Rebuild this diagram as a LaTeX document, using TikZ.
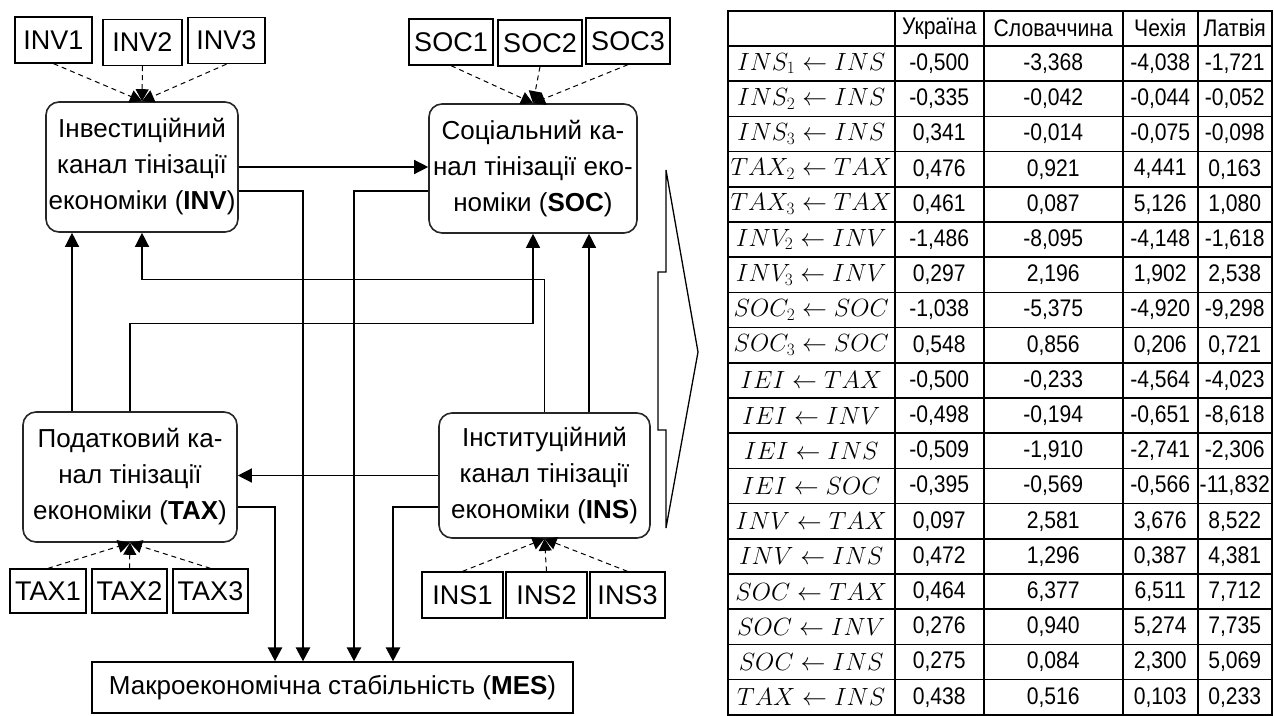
\documentclass[tikz,border=0pt]{standalone}
\usepackage{fontspec}
\setmainfont{Liberation Sans}
\newfontfamily\narrowsans{Liberation Sans}[FakeStretch=0.88]
\usetikzlibrary{arrows.meta,matrix,calc}

\newcommand\indfont{\fontsize{27}{31}\selectfont}
\newcommand\chanfont{\fontsize{26}{36}\selectfont}
\newcommand\mesfont{\fontsize{26}{30}\selectfont}
\newcommand\tabfont{\narrowsans\fontsize{24}{28}\selectfont}
\newcommand\labfont{\fontsize{24}{28}\selectfont}

\tikzset{
  ind/.style={draw=black, line width=1.3pt, minimum height=46pt, inner sep=0pt, font=\indfont},
  chan/.style={draw=black!85, line width=1.6pt, rounded corners=13pt, align=center, inner sep=0pt, font=\chanfont},
  link/.style={line width=1.3pt, -{Triangle[length=14pt,width=14pt]}},
  heavy/.style={line width=2.6pt, -{Triangle[length=14pt,width=14pt]}},
  meas/.style={line width=1pt, dash pattern=on 5pt off 4pt, -{Triangle[length=12pt,width=13pt]}},
}

\begin{document}
\begin{tikzpicture}[x=1pt,y=-1pt]
\useasboundingbox (0,0) rectangle (1274,715);

% channels of the shadow economy
\node[chan, minimum width=192pt, minimum height=130pt] (INV) at (142,167)
  {Інвестиційний\\канал тінізації\\економіки (\textbf{INV})};
\node[chan, minimum width=208pt, minimum height=129pt] (SOC) at (533,168.5)
  {Соціальний ка-\\нал тінізації еко-\\номіки (\textbf{SOC})};
\node[chan, minimum width=214pt, minimum height=130pt] (TAX) at (130,477)
  {Податковий ка-\\нал тінізації\\економіки (\textbf{TAX})};
\node[chan, minimum width=211pt, minimum height=125pt] (INS) at (544.5,475.5)
  {Інституційний\\канал тінізації\\економіки (\textbf{INS})};

% macroeconomic stability
\node[draw=black, line width=1.3pt, minimum width=481pt, minimum height=51pt, inner sep=0pt, font=\mesfont]
  (MES) at (332.5,687.5) {Макроекономічна стабільність (\textbf{MES})};

% indicators
\node[ind, minimum width=77pt] (INV1) at (53.5,40) {INV1};
\node[ind, minimum width=79pt] (INV2) at (142.5,42.5) {INV2};
\node[ind, minimum width=77pt] (INV3) at (226.5,40.5) {INV3};
\node[ind, minimum width=84pt] (SOC1) at (451,42) {SOC1};
\node[ind, minimum width=84pt] (SOC2) at (540,43) {SOC2};
\node[ind, minimum width=84pt] (SOC3) at (628,41) {SOC3};
\node[ind, minimum width=76pt, minimum height=44pt] (TAX1) at (48,591) {TAX1};
\node[ind, minimum width=75pt, minimum height=44pt] (TAX2) at (129.5,591) {TAX2};
\node[ind, minimum width=75pt, minimum height=44pt] (TAX3) at (210.5,591) {TAX3};
\node[ind, minimum width=81pt] (INS1) at (462.5,595) {INS1};
\node[ind, minimum width=81pt] (INS2) at (546.5,595) {INS2};
\node[ind, minimum width=75pt] (INS3) at (627.5,595) {INS3};

% measurement links
\foreach \i in {1,2,3} {
  \draw[meas] (INV\i.south) -- (INV.north);
  \draw[meas] (SOC\i.south) -- (SOC.north);
  \draw[meas] (TAX\i.north) -- (TAX.south);
  \draw[meas] (INS\i.north) -- (INS.south);
}

% links between channels
\draw[link] (INV.east) -- (INV.east -| SOC.west);
\draw[link] ([xshift=-58pt]TAX.north) -- ([xshift=-58pt]TAX.north |- INV.south);
\draw[link] (INS.north) |- ($(INV.south)+(0,47)$) -- (INV.south);
\draw[link] (TAX.north) |- ($(SOC.south)+(0,90)$) -- (SOC.south);
\draw[link] ([xshift=44.5pt]INS.north) -- ([xshift=44.5pt]INS.north |- SOC.south);
\draw[link] (INS.west) -- (INS.west -| TAX.east);

% channels to macroeconomic stability
\draw[heavy] ([yshift=-24pt]INV.east) -| ([xshift=-29.5pt]MES.north);
\draw[heavy] ([yshift=-22.5pt]SOC.west) -| ([xshift=21.5pt]MES.north);
\draw[heavy] ([yshift=-30pt]TAX.east) -| ([xshift=-57.5pt]MES.north);
\draw[heavy] ([yshift=-31.5pt]INS.west) -| ([xshift=60.5pt]MES.north);

% callout pointing to the table
\draw[line width=1.3pt, line join=miter] (666,170) -- (666,272) -- (658,272) -- (658,430)
  -- (666,430) -- (666,528) -- (698,352) -- cycle;

% coefficients table
\matrix (tbl) [matrix of nodes, anchor=north west, inner sep=0pt, outer sep=0pt,
  column sep=-1.5pt, row sep=-1.5pt, nodes in empty cells,
  nodes={draw, line width=1.5pt, anchor=center, minimum height=35.2pt, inner sep=0pt, outer sep=0pt, font=\tabfont},
  column 1/.style={nodes={minimum width=167pt, font=\labfont}},
  column 2/.style={nodes={minimum width=89pt}},
  column 3/.style={nodes={minimum width=139pt}},
  column 4/.style={nodes={minimum width=75pt}},
  column 5/.style={nodes={minimum width=74pt}}] at (727,10) {
  & Україна & Словаччина & Чехія & Латвія \\
$INS_1 \leftarrow INS$ & -0,500 & -3,368 & -4,038 & -1,721 \\
$INS_2 \leftarrow INS$ & -0,335 & -0,042 & -0,044 & -0,052 \\
$INS_3 \leftarrow INS$ & 0,341 & -0,014 & -0,075 & -0,098 \\
$TAX_2 \leftarrow TAX$ & 0,476 & 0,921 & 4,441 & 0,163 \\
$TAX_3 \leftarrow TAX$ & 0,461 & 0,087 & 5,126 & 1,080 \\
$INV_2 \leftarrow INV$ & -1,486 & -8,095 & -4,148 & -1,618 \\
$INV_3 \leftarrow INV$ & 0,297 & 2,196 & 1,902 & 2,538 \\
$SOC_2 \leftarrow SOC$ & -1,038 & -5,375 & -4,920 & -9,298 \\
$SOC_3 \leftarrow SOC$ & 0,548 & 0,856 & 0,206 & 0,721 \\
$IEI \leftarrow TAX$ & -0,500 & -0,233 & -4,564 & -4,023 \\
$IEI \leftarrow INV$ & -0,498 & -0,194 & -0,651 & -8,618 \\
$IEI \leftarrow INS$ & -0,509 & -1,910 & -2,741 & -2,306 \\
$IEI \leftarrow SOC$ & -0,395 & -0,569 & -0,566 & -11,832 \\
$INV \leftarrow TAX$ & 0,097 & 2,581 & 3,676 & 8,522 \\
$INV \leftarrow INS$ & 0,472 & 1,296 & 0,387 & 4,381 \\
$SOC \leftarrow TAX$ & 0,464 & 6,377 & 6,511 & 7,712 \\
$SOC \leftarrow INV$ & 0,276 & 0,940 & 5,274 & 7,735 \\
$SOC \leftarrow INS$ & 0,275 & 0,084 & 2,300 & 5,069 \\
$TAX \leftarrow INS$ & 0,438 & 0,516 & 0,103 & 0,233 \\
};
\end{tikzpicture}
\end{document}
